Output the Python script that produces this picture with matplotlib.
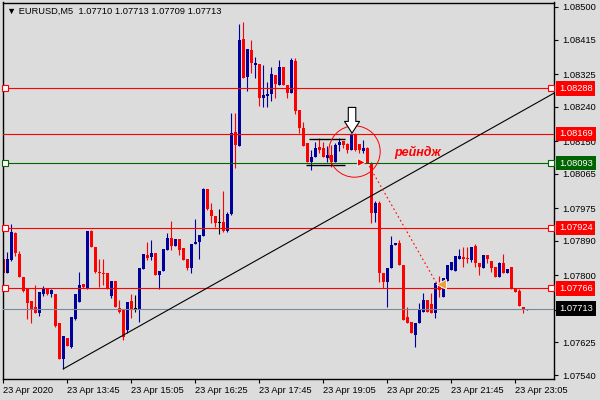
import numpy as np
import matplotlib
matplotlib.use("Agg")
import matplotlib.pyplot as plt
from matplotlib.transforms import blended_transform_factory

# EURUSD M5 candles, 23 Apr 2020 12:25 .. 23:20 (one entry per bar)
opens = [
    1.07843, 1.07806, 1.07840, 1.07910, 1.07856, 1.07796, 1.07767, 1.07733, 1.07717, 1.07702,
    1.07751, 1.07767, 1.07751, 1.07751, 1.07676, 1.07582, 1.07637, 1.07613, 1.07686, 1.07730,
    1.07777, 1.07767, 1.07916, 1.07874, 1.07809, 1.07806, 1.07806, 1.07746, 1.07785, 1.07715,
    1.07710, 1.07657, 1.07733, 1.07712, 1.07710, 1.07817, 1.07853, 1.07848, 1.07858, 1.07801,
    1.07811, 1.07866, 1.07897, 1.07877, 1.07895, 1.07871, 1.07843, 1.07819, 1.07882, 1.07887,
    1.07903, 1.08025, 1.07970, 1.07955, 1.07937, 1.07939, 1.07916, 1.07960, 1.08174, 1.08137,
    1.08417, 1.08317, 1.08388, 1.08349, 1.08351, 1.08263, 1.08268, 1.08273, 1.08323, 1.08297,
    1.08344, 1.08297, 1.08276, 1.08359, 1.08231, 1.08184, 1.08145, 1.08096, 1.08109, 1.08135,
    1.08132, 1.08106, 1.08114, 1.08096, 1.08140, 1.08150, 1.08143, 1.08127, 1.08166, 1.08143,
    1.08124, 1.08132, 1.08093, 1.07963, 1.07989, 1.07806, 1.07783, 1.07819, 1.07879, 1.07884,
    1.07827, 1.07691, 1.07678, 1.07644, 1.07676, 1.07704, 1.07736, 1.07725, 1.07702, 1.07780,
    1.07744, 1.07785, 1.07814, 1.07811, 1.07843, 1.07848, 1.07843, 1.07840, 1.07877, 1.07832,
    1.07819, 1.07853, 1.07837, 1.07822, 1.07796, 1.07832, 1.07806, 1.07822, 1.07764, 1.07759,
    1.07717, 1.07710,
]
highs = [
    1.07843, 1.07861, 1.07934, 1.07913, 1.07864, 1.07796, 1.07767, 1.07733, 1.07775, 1.07757,
    1.07772, 1.07767, 1.07764, 1.07751, 1.07676, 1.07642, 1.07637, 1.07691, 1.07751, 1.07809,
    1.07777, 1.07916, 1.07918, 1.07874, 1.07843, 1.07843, 1.07806, 1.07785, 1.07785, 1.07736,
    1.07710, 1.07730, 1.07751, 1.07749, 1.07819, 1.07856, 1.07887, 1.07892, 1.07858, 1.07811,
    1.07869, 1.07910, 1.07942, 1.07895, 1.07895, 1.07871, 1.07843, 1.07882, 1.07947, 1.07905,
    1.08028, 1.08025, 1.07989, 1.07955, 1.07973, 1.08020, 1.07965, 1.08224, 1.08224, 1.08456,
    1.08461, 1.08390, 1.08414, 1.08370, 1.08351, 1.08349, 1.08304, 1.08344, 1.08323, 1.08362,
    1.08344, 1.08297, 1.08367, 1.08367, 1.08231, 1.08200, 1.08145, 1.08127, 1.08148, 1.08158,
    1.08148, 1.08137, 1.08140, 1.08145, 1.08158, 1.08150, 1.08145, 1.08171, 1.08171, 1.08143,
    1.08153, 1.08135, 1.08096, 1.07994, 1.07994, 1.07806, 1.07819, 1.07903, 1.07884, 1.07892,
    1.07827, 1.07717, 1.07678, 1.07676, 1.07728, 1.07754, 1.07736, 1.07754, 1.07780, 1.07798,
    1.07793, 1.07827, 1.07835, 1.07850, 1.07869, 1.07874, 1.07874, 1.07874, 1.07882, 1.07832,
    1.07853, 1.07853, 1.07837, 1.07822, 1.07835, 1.07856, 1.07817, 1.07822, 1.07764, 1.07764,
    1.07717, 1.07713,
]
lows = [
    1.07785, 1.07806, 1.07837, 1.07850, 1.07796, 1.07757, 1.07686, 1.07676, 1.07702, 1.07694,
    1.07746, 1.07749, 1.07744, 1.07665, 1.07582, 1.07556, 1.07616, 1.07610, 1.07684, 1.07730,
    1.07767, 1.07764, 1.07874, 1.07806, 1.07770, 1.07775, 1.07764, 1.07741, 1.07717, 1.07702,
    1.07631, 1.07650, 1.07689, 1.07704, 1.07678, 1.07817, 1.07840, 1.07840, 1.07801, 1.07764,
    1.07811, 1.07866, 1.07866, 1.07877, 1.07853, 1.07840, 1.07814, 1.07806, 1.07882, 1.07843,
    1.07903, 1.07970, 1.07937, 1.07926, 1.07908, 1.07913, 1.07913, 1.07957, 1.08080, 1.08137,
    1.08315, 1.08281, 1.08328, 1.08315, 1.08242, 1.08239, 1.08239, 1.08255, 1.08263, 1.08297,
    1.08297, 1.08263, 1.08276, 1.08221, 1.08171, 1.08137, 1.08096, 1.08075, 1.08109, 1.08119,
    1.08109, 1.08096, 1.08083, 1.08096, 1.08124, 1.08132, 1.08119, 1.08127, 1.08124, 1.08119,
    1.08119, 1.08093, 1.07937, 1.07939, 1.07783, 1.07767, 1.07717, 1.07819, 1.07879, 1.07827,
    1.07684, 1.07676, 1.07650, 1.07613, 1.07676, 1.07704, 1.07704, 1.07702, 1.07689, 1.07744,
    1.07744, 1.07785, 1.07814, 1.07811, 1.07843, 1.07822, 1.07832, 1.07835, 1.07822, 1.07801,
    1.07819, 1.07832, 1.07809, 1.07796, 1.07796, 1.07806, 1.07806, 1.07764, 1.07757, 1.07720,
    1.07702, 1.07709,
]
closes = [
    1.07806, 1.07843, 1.07913, 1.07858, 1.07796, 1.07759, 1.07728, 1.07712, 1.07702, 1.07757,
    1.07767, 1.07751, 1.07762, 1.07668, 1.07582, 1.07642, 1.07616, 1.07691, 1.07751, 1.07775,
    1.07770, 1.07916, 1.07874, 1.07809, 1.07806, 1.07804, 1.07767, 1.07785, 1.07717, 1.07704,
    1.07639, 1.07730, 1.07710, 1.07712, 1.07819, 1.07856, 1.07845, 1.07858, 1.07801, 1.07811,
    1.07869, 1.07897, 1.07877, 1.07895, 1.07866, 1.07840, 1.07819, 1.07882, 1.07887, 1.07905,
    1.08025, 1.07973, 1.07955, 1.07937, 1.07937, 1.07916, 1.07960, 1.08171, 1.08140, 1.08414,
    1.08315, 1.08390, 1.08354, 1.08354, 1.08263, 1.08270, 1.08273, 1.08325, 1.08299, 1.08344,
    1.08297, 1.08276, 1.08362, 1.08229, 1.08184, 1.08137, 1.08096, 1.08109, 1.08132, 1.08127,
    1.08109, 1.08114, 1.08096, 1.08140, 1.08148, 1.08140, 1.08127, 1.08166, 1.08127, 1.08127,
    1.08132, 1.08093, 1.07963, 1.07989, 1.07806, 1.07783, 1.07819, 1.07879, 1.07884, 1.07827,
    1.07684, 1.07676, 1.07650, 1.07676, 1.07710, 1.07736, 1.07704, 1.07702, 1.07780, 1.07762,
    1.07793, 1.07827, 1.07835, 1.07850, 1.07850, 1.07843, 1.07842, 1.07874, 1.07832, 1.07822,
    1.07853, 1.07843, 1.07819, 1.07796, 1.07832, 1.07806, 1.07817, 1.07764, 1.07757, 1.07720,
    1.07710, 1.07713,
]

time_ticks = [0, 16, 32, 48, 64, 80, 96, 112, 128]
time_labels = ["23 Apr 2020", "23 Apr 13:45", "23 Apr 15:05", "23 Apr 16:25",
               "23 Apr 17:45", "23 Apr 19:05", "23 Apr 20:25", "23 Apr 21:45",
               "23 Apr 23:05"]
price_ticks = [1.07540, 1.07625, 1.07710, 1.07800, 1.07890, 1.07975,
               1.08065, 1.08150, 1.08240, 1.08325, 1.08415, 1.08500]

# horizontal levels drawn on the chart
levels = [1.08288, 1.08169, 1.08093, 1.07924, 1.07766]
level_colors = ["#ff0000", "#ff0000", "#006400", "#ff0000", "#ff0000"]
level_handles = [True, False, True, True, True]
bid = 1.07713

BG = "#dcdcdc"
BULL = "#00009c"
BEAR = "#ff0000"

plt.rcParams["font.family"] = ["Liberation Sans", "DejaVu Sans"]
fs = 6.7

fig = plt.figure(figsize=(6, 4), dpi=100, facecolor=BG)
ax = fig.add_axes([2.5 / 600, 21 / 400, 551.5 / 600, 376.5 / 400])
ax.set_facecolor(BG)

o = np.array(opens); h = np.array(highs); l = np.array(lows); c = np.array(closes)
idx = np.arange(len(o))
colors = np.where(c > o, BULL, np.where(c < o, BEAR, "black"))

ax.vlines(idx, l, h, colors=colors, lw=0.8, zorder=2)
ax.bar(idx, np.maximum(np.abs(c - o), 0.00002), bottom=np.minimum(o, c),
       width=0.78, color=colors, lw=0, zorder=2)

trans = blended_transform_factory(ax.transAxes, ax.transData)
for lvl, col, hnd in zip(levels, level_colors, level_handles):
    ax.axhline(lvl, color=col, lw=0.8, zorder=3)
    if hnd:
        ax.plot([0.005, 0.9946], [lvl, lvl], "s", transform=trans, ms=4,
                mfc="white", mec=col, mew=0.8, zorder=4, clip_on=False)
    ax.text(1.009, lvl, f"{lvl:.5f}", transform=trans, color="white", fontsize=fs,
            va="center", ha="left", zorder=5, clip_on=False,
            bbox=dict(boxstyle="square,pad=0.3", fc=col, ec="none"))
ax.axhline(bid, color="#778899", lw=0.8, zorder=3)
ax.text(1.009, bid, f"{bid:.5f}", transform=trans, color="white", fontsize=fs,
        va="center", ha="left", zorder=5, clip_on=False,
        bbox=dict(boxstyle="square,pad=0.3", fc="black", ec="none"))

# trend line from the low, dotted projection, range box
ax.plot([15, 138], [1.07556, 1.08277], color="black", lw=0.8, zorder=3)
ax.plot([91.5, 108.3], [1.08085, 1.07780], color="red", lw=0.8,
        ls=(0, (1.5, 2.5)), zorder=3)
ax.hlines(1.08156, 76.4, 85.4, color="black", lw=1.0, zorder=3)
ax.hlines(1.08088, 75.7, 85.4, color="black", lw=1.0, zorder=3)

# marks
ax.plot(87.7, 1.08124, "o", ms=37, mfc="none", mec="red", mew=0.7, zorder=4)
ax.plot(89.4, 1.08096, ">", ms=6, color="red", mec="white", mew=0.6, zorder=4)
ax.plot(109.4, 1.07777, "<", ms=7, color="#e8a33c", mec="white", mew=0.6, zorder=4)
ax.annotate("", xy=(87.2, 1.08171), xytext=(87.2, 1.08238),
            arrowprops=dict(arrowstyle="simple,head_length=0.7,head_width=0.9,tail_width=0.45",
                            fc="white", ec="black", lw=0.8, mutation_scale=12,
                            shrinkA=0, shrinkB=0), zorder=5)
ax.text(97.7, 1.08122, "рейндж", color="red", fontsize=9, fontstyle="italic",
        fontweight="bold", va="center", ha="left", zorder=5)

fig.text(7 / 600, 1 - 11 / 400, "▼ EURUSD,M5  1.07710 1.07713 1.07709 1.07713",
         fontsize=fs, va="center", ha="left")

ax.set_xlim(-0.2, 137.7)
ax.set_ylim(1.075296, 1.085117)
ax.yaxis.tick_right()
ax.set_yticks(price_ticks)
# the 1.07710 label sits under the bid price box, as in the terminal
ax.set_yticklabels(["" if p == 1.07710 else f"{p:.5f}" for p in price_ticks])
ax.set_xticks(time_ticks)
ax.set_xticklabels(time_labels, ha="left")
ax.tick_params(axis="both", direction="out", length=3, width=0.8,
               labelsize=fs, colors="black")
ax.tick_params(axis="y", pad=3)
ax.tick_params(axis="x", pad=2)
for s in ax.spines.values():
    s.set_color("black")
    s.set_linewidth(1.0)

fig.savefig("out.png", dpi=100, facecolor=BG)
